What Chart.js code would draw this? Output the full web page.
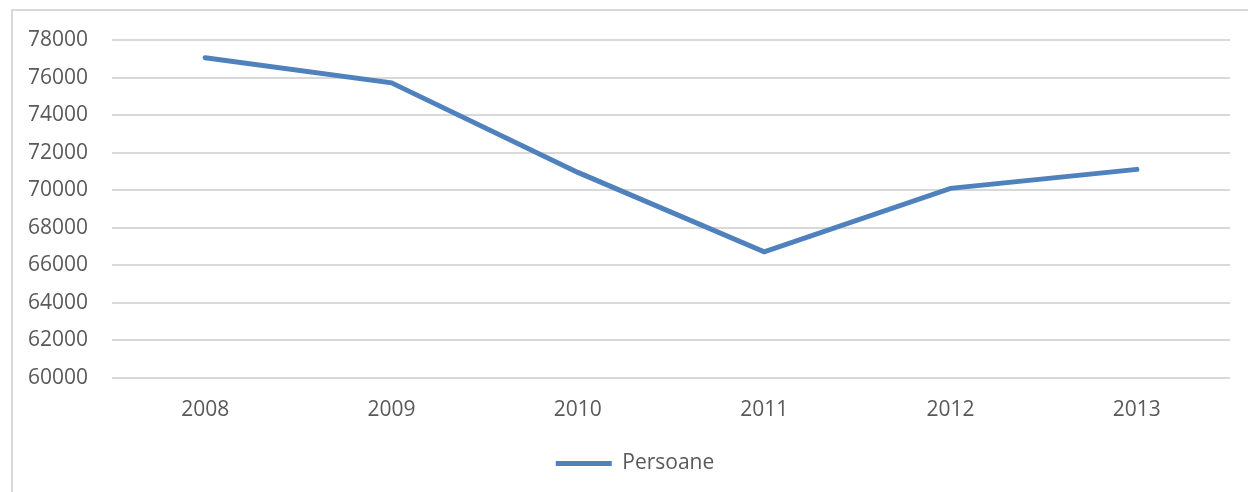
<!DOCTYPE html>
<html><head><meta charset="utf-8">
<script src="https://cdn.jsdelivr.net/npm/chart.js@4/dist/chart.umd.min.js"></script>
<style>
html,body{margin:0;padding:0;background:#fff;overflow:hidden;}
#wrap{position:relative;width:1248px;height:492px;}
#frame{position:absolute;left:11px;top:9px;width:1250px;height:500px;border:2px solid #D9D9D9;box-sizing:border-box;}
canvas{position:absolute;left:0;top:0;}
</style></head><body>
<div id="wrap"><div id="frame"></div><canvas id="c" width="1248" height="492"></canvas></div>
<script>
const categories = ["2008","2009","2010","2011","2012","2013"];
const persoane = [77060, 75720, 70950, 66720, 70100, 71110];
const seriesName = "Persoane";
const yMin = 60000, yMax = 78000, yStep = 2000;

const FONT = "'Open Sans', sans-serif";
const TXT = "#595959";
const shiftLegend = {
  id: 'shiftLegend',
  afterLayout(chart) {
    const lg = chart.legend;
    if (lg) { lg.left += 20; lg.right += 20; }
  }
};
const ctx = document.getElementById('c');
new Chart(ctx, {
  type: 'line',
  data: { labels: categories, datasets: [{
    label: seriesName, data: persoane,
    borderColor: '#4F81BD', backgroundColor: '#4F81BD',
    borderWidth: 5, pointRadius: 0, pointHoverRadius: 0, tension: 0,
    borderCapStyle: 'round', borderJoinStyle: 'miter', fill: false
  }]},
  plugins: [shiftLegend],
  options: {
    responsive: false, animation: false, devicePixelRatio: 1,
    layout: { padding: { top: 40, right: 18, bottom: 8, left: 0 } },
    plugins: {
      tooltip: { enabled: false },
      legend: { position: 'bottom',
        labels: { color: TXT, font: { family: FONT, size: 21 }, boxWidth: 56, boxHeight: 0, padding: 13,
          generateLabels: (ch) => [{ text: seriesName, fillStyle: '#4F81BD', strokeStyle: '#4F81BD', lineWidth: 5, lineCap: 'round', datasetIndex: 0, fontColor: TXT }] } }
    },
    scales: {
      x: { offset: true,
        grid: { display: false, drawTicks: false },
        border: { display: false },
        ticks: { color: TXT, font: { family: FONT, size: 21 }, padding: 19 },
        afterFit: (s) => { s.height = 62; } },
      y: { min: yMin, max: yMax,
        grid: { color: '#D9D9D9', lineWidth: 2, drawTicks: false },
        border: { display: false },
        ticks: { stepSize: yStep, color: TXT, font: { family: FONT, size: 21 }, padding: 24,
          callback: (v) => String(v) },
        afterFit: (s) => { s.width = 112; } }
    }
  }
});
</script></body></html>
